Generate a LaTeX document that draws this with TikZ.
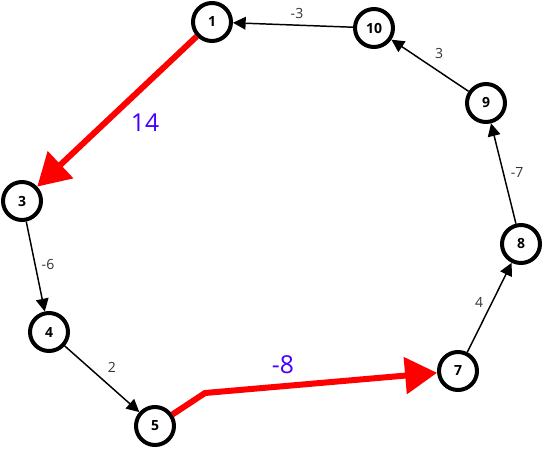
\documentclass[tikz,border=0pt]{standalone}
\usepackage{fontspec}
\setmainfont{Open Sans}
\usepackage{xcolor}
\usetikzlibrary{arrows.meta, positioning}
\definecolor{hotedge}{RGB}{255,0,0}
\definecolor{hotlabel}{RGB}{68,0,255}

\begin{document}
\begin{tikzpicture}[
    x=0.75pt, y=-0.75pt,
    vertex/.style={circle, draw, line width=3pt, fill=white, minimum size=28.5pt, inner sep=0pt, font=\fontsize{10.5}{12}\selectfont\bfseries},
    edge/.style={draw, line width=1.1pt, -{Triangle[length=9.5pt, width=9.5pt]}},
    hot/.style={draw=hotedge, line width=4.5pt, -{Triangle[length=24pt, width=27pt]}},
    weight/.style={font=\fontsize{10.5}{12}\selectfont, text=black!80, inner sep=1pt},
    hotweight/.style={font=\fontsize{18.5}{20}\selectfont, text=hotlabel, inner sep=1pt}
]
\useasboundingbox (0,0) rectangle (543,450);
\node[vertex] (n1) at (212,22) {1};
\node[vertex] (n10) at (374,28) {10};
\node[vertex] (n9) at (486,103) {9};
\node[vertex] (n8) at (521,244) {8};
\node[vertex] (n7) at (458,371) {7};
\node[vertex] (n5) at (155,426) {5};
\node[vertex] (n4) at (49,332) {4};
\node[vertex] (n3) at (22,201) {3};
\coordinate (kink) at (205,393);
\draw[edge] (n10) -- (n1);
\draw[edge] (n9) -- (n10);
\draw[edge] (n8) -- (n9);
\draw[edge] (n7) -- (n8);
\draw[edge] (n4) -- (n5);
\draw[edge] (n3) -- (n4);
\draw[hot] (n1) -- (n3);
\draw[hot] (n5) -- (kink) -- (n7);
% weights
\node[weight] (w101) at (297,13) {-3};
\node[weight] (w910) at (439,53) {3};
\node[weight] (w89) at (517,172) {-7};
\node[weight] (w78) at (479,302) {4};
\node[weight] (w45) at (112,367) {2};
\node[weight] (w34) at (48,264) {-6};
\node[hotweight] (w13) at (145,123) {14};
\node[hotweight] (w57) at (283,365) {-8};
\end{tikzpicture}
\end{document}
